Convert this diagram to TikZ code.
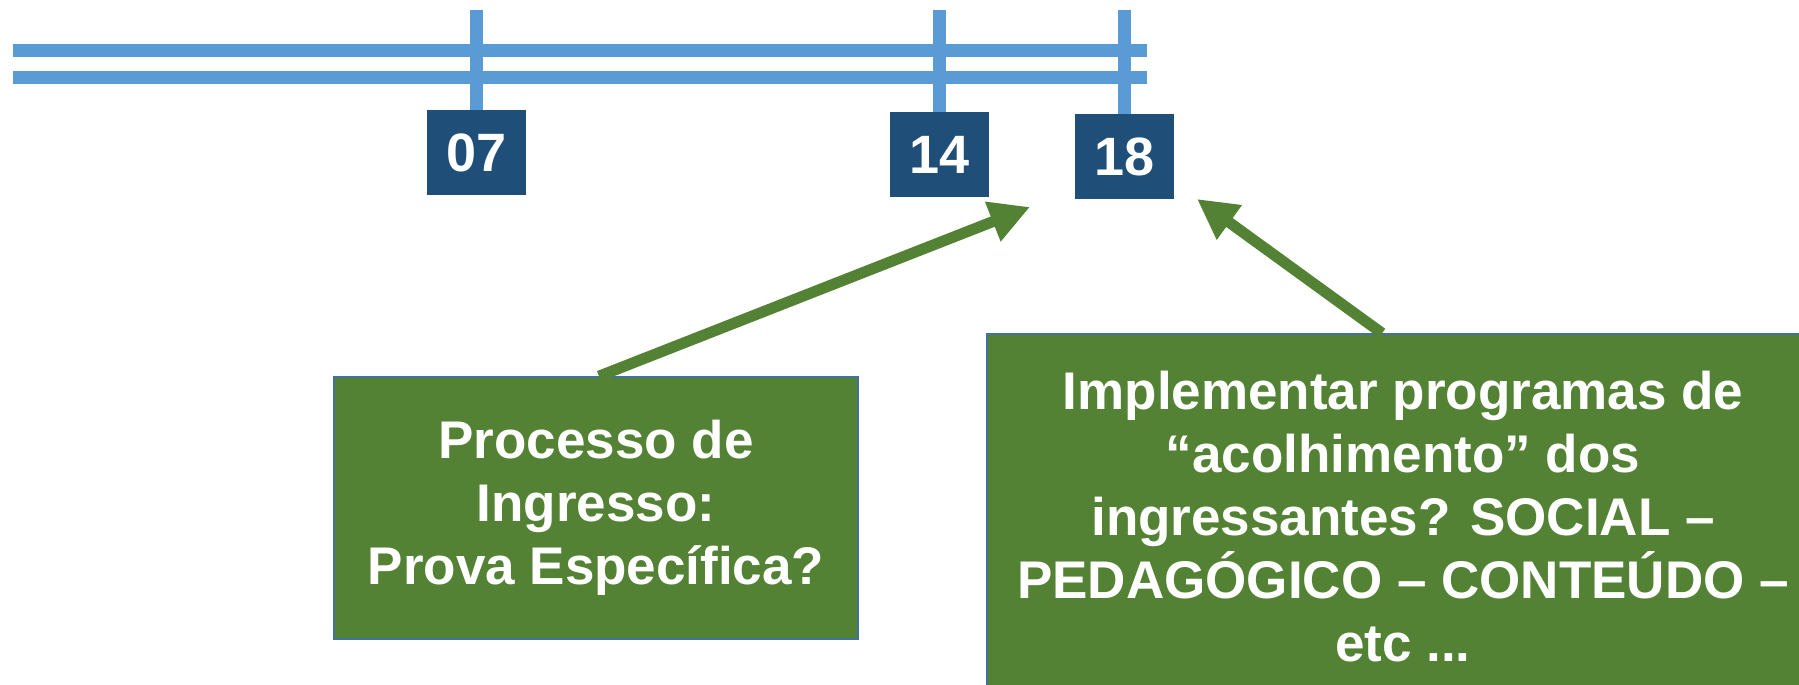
\documentclass[tikz,border=0pt]{standalone}
\usepackage{fontspec}
\setmainfont{Liberation Sans}
\usepackage{xcolor}
\usetikzlibrary{arrows, arrows.meta}
\usetikzlibrary{positioning}
\usetikzlibrary{calc}

\definecolor{lineblue}{HTML}{5B9BD5}
\definecolor{yearblue}{HTML}{1F4E79}
\definecolor{notegreen}{HTML}{548235}
\definecolor{noteedge}{HTML}{41719C}

\begin{document}
\begin{tikzpicture}[x=0.5pt,y=-0.5pt,
	yearbox/.style={fill=yearblue, text=white, font=\fontsize{27}{30}\selectfont\bfseries, minimum width=49.5pt, minimum height=42.5pt, inner sep=0pt},
	notebox/.style={fill=notegreen, draw=noteedge, line width=0.8pt, text=white, font=\fontsize{26.5}{31.5}\selectfont\bfseries, align=center, inner sep=0pt},
	rail/.style={lineblue, line width=6.5pt},
	pointer/.style={-{Triangle[length=20pt,width=20pt]}, notegreen, line width=5.5pt}]
					\useasboundingbox (0,0) rectangle (1799,685);
					\clip (0,0) rectangle (1799,685);
					
					%timeline
					\draw[rail] (13,50.5) -- (1147,50.5);
					\draw[rail] (13,77.5) -- (1147,77.5);
					
					% years
					\node[yearbox] (y07) at (476.5,152.5) {07};
					\node[yearbox] (y14) at (939.5,154.5) {14};
					\node[yearbox] (y18) at (1124.5,156.5) {18};
					\coordinate (top) at (0,10);
					\draw[rail] (y07.north |- top) -- (y07.north);
					\draw[rail] (y14.north |- top) -- (y14.north);
					\draw[rail] (y18.north |- top) -- (y18.north);
					
					% notes
					\node[notebox, minimum width=262pt, minimum height=131pt] (ingresso) at (596,508) {Processo de\\ Ingresso:\\ Prova Específica?};
					\node[notebox, minimum width=416pt, minimum height=183pt] (acolhimento) at (1403,517) {Implementar programas de\\ “acolhimento” dos\\ ingressantes? SOCIAL –\\ PEDAGÓGICO – CONTEÚDO –\\ etc ...};
					
					% arrows
					\coordinate (tip14) at (1030,207);
					\coordinate (tip18) at (1197,199);
					\draw[pointer] ($(ingresso.north)+(3,0)$) -- (tip14);
					\draw[pointer] ($(acolhimento.north)+(-21,0)$) -- (tip18);
				\end{tikzpicture}
\end{document}
